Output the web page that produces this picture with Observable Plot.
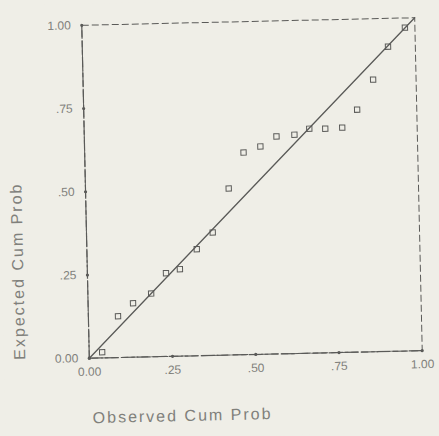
<!DOCTYPE html>
<html><head><meta charset="utf-8">
<script src="https://cdn.jsdelivr.net/npm/d3@7"></script>
<script src="https://cdn.jsdelivr.net/npm/@observablehq/plot@0.6"></script>
<style>
html,body{margin:0;padding:0;background:#efeee7;overflow:hidden;}
#chart{width:439px;height:436px;}
#chart svg{transform:rotate(-1.3deg);transform-origin:251px 188px;}
</style></head><body><div id="chart"></div>
<script>
const observed = [0.039, 0.089, 0.135, 0.19, 0.236, 0.278, 0.33, 0.379, 0.43, 0.477, 0.528, 0.577, 0.631, 0.676, 0.724, 0.775, 0.821, 0.871, 0.918, 0.97];
const expected = [0.017, 0.124, 0.162, 0.19, 0.25, 0.261, 0.32, 0.369, 0.50, 0.607, 0.624, 0.653, 0.657, 0.674, 0.673, 0.675, 0.728, 0.817, 0.915, 0.971];
const tickValues = [0, 0.25, 0.5, 0.75, 1];
const tickLabels = ["0.00", ".25", ".50", ".75", "1.00"];
const diagonal = [0, 1];
const xLabel = "Observed Cum Prob";
const yLabel = "Expected Cum Prob";

const points = observed.map((o, i) => ({observed: o, expected: expected[i]}));
const fmt = d => tickLabels[tickValues.indexOf(d)];
const ink = "#5a5a58";
const textInk = "#80807b";

const chart = Plot.plot({
  width: 439,
  height: 436,
  marginLeft: 85,
  marginRight: 21,
  marginTop: 21,
  marginBottom: 82,
  style: {background: "#efeee7", fontFamily: "'Liberation Sans', Arial, sans-serif", fontSize: "11px", color: textInk},
  x: {domain: [0, 1], axis: null},
  y: {domain: [0, 1], axis: null},
  marks: [
    Plot.frame({stroke: ink, strokeDasharray: "7,3", strokeWidth: 1}),
    Plot.ruleX([0], {stroke: ink, strokeWidth: 1.2, strokeDasharray: "14,2"}),
    Plot.ruleY([0], {stroke: ink, strokeWidth: 1.2, strokeDasharray: "14,2"}),
    Plot.axisX({ticks: tickValues, tickFormat: fmt, tickSize: 0, tickPadding: 9, fontSize: 12, fill: textInk, label: null}),
    Plot.axisY({ticks: tickValues, tickFormat: fmt, tickSize: 0, tickPadding: 11, fontSize: 12, fill: textInk, label: null}),
    Plot.dot(tickValues, {x: d => d, y: 0, r: 1.6, fill: ink, stroke: null}),
    Plot.dot(tickValues, {x: 0, y: d => d, r: 1.6, fill: ink, stroke: null}),
    Plot.line(diagonal, {x: d => d, y: d => d, stroke: ink, strokeWidth: 1.3}),
    Plot.dot(points, {x: "observed", y: "expected", symbol: "square", r: 3, stroke: ink, strokeWidth: 1, fill: "none"}),
    Plot.text([xLabel], {text: d => d, frameAnchor: "bottom-left", textAnchor: "start", dx: 2, dy: 65, fontSize: 16, fill: textInk}),
    Plot.text([yLabel], {text: d => d, frameAnchor: "bottom-left", textAnchor: "start", rotate: -90, dx: -64, dy: 0, fontSize: 16, fill: textInk})
  ]
});
chart.querySelectorAll("text").forEach(t => {
  if (t.textContent === xLabel || t.textContent === yLabel) t.setAttribute("letter-spacing", "2px");
});
document.getElementById("chart").append(chart);
</script>
</body></html>
